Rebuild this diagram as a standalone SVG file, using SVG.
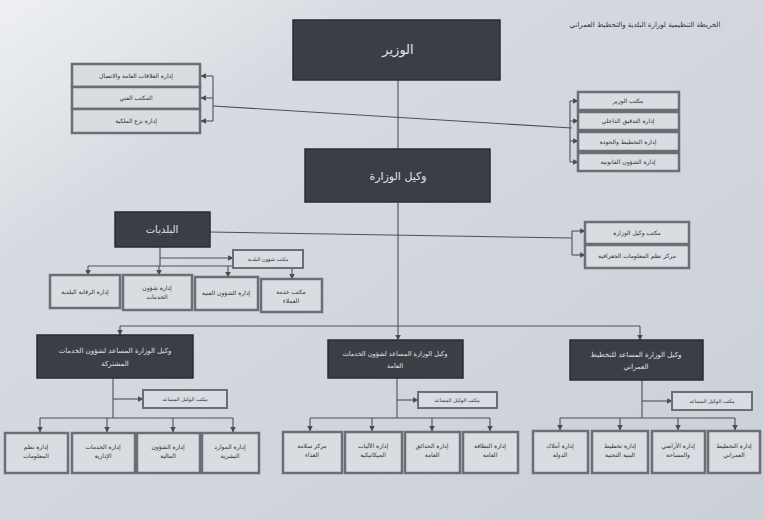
<svg xmlns="http://www.w3.org/2000/svg" width="764" height="520" viewBox="0 0 764 520">
<defs>
<linearGradient id="bg" x1="0" y1="0" x2="1" y2="1">
<stop offset="0" stop-color="#eef0f3"/>
<stop offset="0.25" stop-color="#d7dbe1"/>
<stop offset="1" stop-color="#cbcfd6"/>
</linearGradient>
<marker id="ah" viewBox="0 0 10 10" refX="9" refY="5" markerWidth="5" markerHeight="5" orient="auto">
<path d="M0,0 L10,5 L0,10 z" fill="#4a4c50"/>
</marker>
<style>
text{font-family:"DejaVu Sans",sans-serif;text-anchor:middle;fill:#2e3035}
.t{font-size:6px}
.dt{font-size:7px;fill:#e2e3e6}
.big{font-size:13px;fill:#e2e3e6}
.box{fill:#d9dce1;stroke:#6b6e74;stroke-width:2.5}
.dark{fill:#3b3e45;stroke:#2b2d31;stroke-width:1.5}
.c{fill:none;stroke:#4e5055;stroke-width:1.1}
.ca{fill:none;stroke:#4e5055;stroke-width:1.1;marker-end:url(#ah)}
</style>
</defs>
<rect width="764" height="520" fill="url(#bg)"/>
<text x="645" y="27" style="font-size:7px">الخريطة التنظيمية لوزارة البلدية والتخطيط العمراني</text>

<g id="connectors">
<path class="c" d="M398,80 V150"/>
<path class="c" d="M213,106 L572,128"/>
<path class="c" d="M213,76 V121"/>
<path class="ca" d="M213,76 H201"/>
<path class="ca" d="M213,98 H201"/>
<path class="ca" d="M213,121 H201"/>
<path class="c" d="M570,101 V162"/>
<path class="ca" d="M570,101 H578"/>
<path class="ca" d="M570,121 H578"/>
<path class="ca" d="M570,141 H578"/>
<path class="ca" d="M570,162 H578"/>
<path class="c" d="M398,203 V326"/>
<path class="c" d="M210,232 L572,238"/>
<path class="c" d="M572,231 V255"/>
<path class="ca" d="M572,231 H585"/>
<path class="ca" d="M572,255 H585"/>
<path class="c" d="M160,247 V266"/>
<path class="ca" d="M160,258 H233"/>
<path class="c" d="M88,266 H292"/>
<path class="ca" d="M88,266 V275"/>
<path class="ca" d="M159,266 V275"/>
<path class="ca" d="M228,266 V277"/>
<path class="ca" d="M292,266 V279"/>
<path class="c" d="M120,326 H640"/>
<path class="ca" d="M120,326 V335"/>
<path class="ca" d="M398,326 V340"/>
<path class="ca" d="M640,326 V340"/>
<path class="c" d="M113,378 V418"/>
<path class="ca" d="M113,399 H143"/>
<path class="c" d="M40,418 H233"/>
<path class="ca" d="M40,418 V432"/>
<path class="ca" d="M107,418 V432"/>
<path class="ca" d="M173,418 V432"/>
<path class="ca" d="M233,418 V432"/>
<path class="c" d="M397,378 V418"/>
<path class="ca" d="M397,400 H418"/>
<path class="c" d="M310,418 H490"/>
<path class="ca" d="M310,418 V431"/>
<path class="ca" d="M372,418 V431"/>
<path class="ca" d="M432,418 V431"/>
<path class="ca" d="M490,418 V431"/>
<path class="c" d="M642,380 V418"/>
<path class="ca" d="M642,401 H672"/>
<path class="c" d="M560,418 H735"/>
<path class="ca" d="M560,418 V430"/>
<path class="ca" d="M620,418 V430"/>
<path class="ca" d="M678,418 V430"/>
<path class="ca" d="M735,418 V430"/>
</g>

<g id="minister"><rect class="dark" x="293" y="20" width="207" height="60"/><text class="big" x="398" y="54">الوزير</text></g>

<g id="pr"><rect class="box" x="72" y="64" width="128" height="23"/><text class="t" x="136" y="78">إدارة العلاقات العامة والاتصال</text></g>
<g id="techoffice"><rect class="box" x="72" y="87" width="128" height="22"/><text class="t" x="136" y="100">المكتب الفني</text></g>
<g id="expropriation"><rect class="box" x="72" y="109" width="128" height="24"/><text class="t" x="136" y="123">إدارة نزع الملكية</text></g>

<g id="ministeroffice"><rect class="box" x="578" y="92" width="101" height="18"/><text class="t" x="628" y="103">مكتب الوزير</text></g>
<g id="audit"><rect class="box" x="578" y="112" width="101" height="18"/><text class="t" x="628" y="123">إدارة التدقيق الداخلي</text></g>
<g id="quality"><rect class="box" x="578" y="132" width="101" height="19"/><text class="t" x="628" y="144">إدارة التخطيط والجودة</text></g>
<g id="legal"><rect class="box" x="578" y="153" width="101" height="18"/><text class="t" x="628" y="164">إدارة الشؤون القانونية</text></g>

<g id="undersecretary"><rect class="dark" x="305" y="149" width="185" height="53"/><text class="big" x="398" y="180" style="font-size:11px">وكيل الوزارة</text></g>

<g id="municipalities"><rect class="dark" x="115" y="212" width="95" height="35"/><text class="dt" x="162" y="233" style="font-size:10px">البلديات</text></g>

<g id="usoffice"><rect class="box" x="585" y="222" width="104" height="22"/><text class="t" x="637" y="235">مكتب وكيل الوزارة</text></g>
<g id="gis"><rect class="box" x="585" y="245" width="104" height="23"/><text class="t" x="637" y="258">مركز نظم المعلومات الجغرافية</text></g>

<g id="munoffice"><rect class="box" x="233" y="250" width="70" height="18" style="stroke-width:2"/><text class="t" x="268" y="261" style="font-size:5px">مكتب شؤون البلدية</text></g>
<g id="munctrl"><rect class="box" x="50" y="275" width="70" height="33"/><text class="t" x="85" y="294">إدارة الرقابة البلدية</text></g>
<g id="services"><rect class="box" x="123" y="275" width="69" height="35"/><text class="t" x="157" y="290">إدارة شؤون</text><text class="t" x="157" y="299">الخدمات</text></g>
<g id="technical"><rect class="box" x="195" y="277" width="63" height="33"/><text class="t" x="226" y="295">إدارة الشؤون الفنية</text></g>
<g id="customers"><rect class="box" x="261" y="279" width="61" height="33"/><text class="t" x="291" y="294">مكتب خدمة</text><text class="t" x="291" y="303">العملاء</text></g>

<g id="asst1"><rect class="dark" x="37" y="335" width="156" height="43"/><text class="dt" x="115" y="353">وكيل الوزارة المساعد لشؤون الخدمات</text><text class="dt" x="115" y="366">المشتركة</text></g>
<g id="asst2"><rect class="dark" x="328" y="340" width="135" height="38"/><text class="dt" x="395" y="356" style="font-size:6.5px">وكيل الوزارة المساعد لشؤون الخدمات</text><text class="dt" x="395" y="368" style="font-size:6.5px">العامة</text></g>
<g id="asst3"><rect class="dark" x="570" y="340" width="133" height="40"/><text class="dt" x="636" y="357">وكيل الوزارة المساعد للتخطيط</text><text class="dt" x="636" y="369">العمراني</text></g>

<g id="office1"><rect class="box" x="143" y="390" width="84" height="18" style="stroke-width:2"/><text class="t" x="185" y="401" style="font-size:5px">مكتب الوكيل المساعد</text></g>
<g id="office2"><rect class="box" x="418" y="392" width="79" height="16" style="stroke-width:2"/><text class="t" x="457" y="402" style="font-size:5px">مكتب الوكيل المساعد</text></g>
<g id="office3"><rect class="box" x="672" y="392" width="80" height="18" style="stroke-width:2"/><text class="t" x="712" y="403" style="font-size:5px">مكتب الوكيل المساعد</text></g>

<g id="infosys"><rect class="box" x="5" y="433" width="63" height="40"/><text class="t" x="36" y="449">إدارة نظم</text><text class="t" x="36" y="458">المعلومات</text></g>
<g id="admin"><rect class="box" x="72" y="433" width="63" height="40"/><text class="t" x="103" y="449">إدارة الخدمات</text><text class="t" x="103" y="458">الإدارية</text></g>
<g id="finance"><rect class="box" x="137" y="433" width="63" height="40"/><text class="t" x="168" y="449">إدارة الشؤون</text><text class="t" x="168" y="458">المالية</text></g>
<g id="hr"><rect class="box" x="202" y="433" width="57" height="40"/><text class="t" x="230" y="449">إدارة الموارد</text><text class="t" x="230" y="458">البشرية</text></g>

<g id="foodsafety"><rect class="box" x="283" y="432" width="59" height="41"/><text class="t" x="312" y="448">مركز سلامة</text><text class="t" x="312" y="457">الغذاء</text></g>
<g id="mechanical"><rect class="box" x="345" y="432" width="57" height="41"/><text class="t" x="373" y="448">إدارة الآليات</text><text class="t" x="373" y="457">الميكانيكية</text></g>
<g id="parks"><rect class="box" x="405" y="432" width="55" height="41"/><text class="t" x="432" y="448">إدارة الحدائق</text><text class="t" x="432" y="457">العامة</text></g>
<g id="cleaning"><rect class="box" x="463" y="432" width="55" height="41"/><text class="t" x="490" y="448">إدارة النظافة</text><text class="t" x="490" y="457">العامة</text></g>

<g id="stateprop"><rect class="box" x="533" y="431" width="55" height="42"/><text class="t" x="560" y="448">إدارة أملاك</text><text class="t" x="560" y="457">الدولة</text></g>
<g id="infra"><rect class="box" x="592" y="431" width="56" height="42"/><text class="t" x="620" y="448">إدارة تخطيط</text><text class="t" x="620" y="457">البنية التحتية</text></g>
<g id="survey"><rect class="box" x="652" y="431" width="53" height="42"/><text class="t" x="678" y="448">إدارة الأراضي</text><text class="t" x="678" y="457">والمساحة</text></g>
<g id="urban"><rect class="box" x="708" y="431" width="52" height="42"/><text class="t" x="734" y="448">إدارة التخطيط</text><text class="t" x="734" y="457">العمراني</text></g>
</svg>
